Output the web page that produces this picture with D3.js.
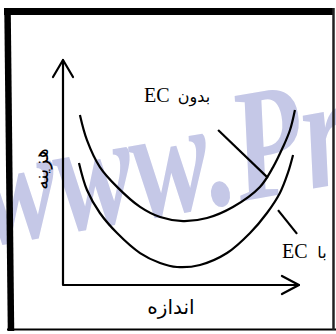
<!DOCTYPE html>
<html>
<head>
<meta charset="utf-8">
<script src="https://cdn.jsdelivr.net/npm/d3@7"></script>
<style>
  html, body { margin: 0; padding: 0; background: #fff; }
  svg { display: block; }
</style>
</head>
<body>
<div id="chart"></div>
<script>
// ---- data ----
const upperX = [7.2, 10.2, 15.7, 23.0, 32.8, 41.3, 51.1, 61.3, 72.3, 83.8, 89.4, 93.6, 96.6, 98.7];
const upperY = [75.6, 64.4, 52.4, 43.6, 34.7, 30.2, 28.4, 29.8, 34.7, 43.6, 52.4, 61.3, 68.9, 77.8];
const lowerX = [6.8, 10.2, 15.7, 23.0, 32.8, 41.3, 48.5, 58.3, 69.8, 79.6, 86.8, 92.3, 95.7, 97.9];
const lowerY = [54.2, 42.2, 32.0, 23.1, 14.2, 9.8, 8.0, 8.9, 14.2, 23.1, 32.0, 40.9, 49.8, 57.8];
const leaderUpper = [[66.0, 68.9], [87.2, 47.6]];
const leaderLower = [[91.5, 33.3], [99.6, 22.7]];
const labelUpperLatin = "EC";
const labelUpperFa = "بدون";
const labelLowerLatin = "EC";
const labelLowerFa = "با";
const xAxisLabel = "اندازه";
const yAxisLabel = "هزینه";
const watermark = "www.Pr";

const W = 336, H = 334;
const svg = d3.select("#chart").append("svg").attr("width", W).attr("height", H);

const x = d3.scaleLinear().domain([0, 100]).range([63, 298]);
const y = d3.scaleLinear().domain([0, 100]).range([285, 60]);

// watermark
svg.append("text")
  .attr("transform", "translate(-12,246) rotate(-10) scale(1,1.38)")
  .attr("font-family", "'Liberation Serif', serif")
  .attr("font-weight", "bold").attr("font-style", "italic")
  .attr("font-size", 116)
  .attr("fill", "rgb(197,200,231)")
  .text(watermark);

// frame
const frame = svg.append("g").attr("stroke", "#000").attr("fill", "none");
frame.append("line").attr("x1", 4).attr("y1", 11.5).attr("x2", 334).attr("y2", 11.5).attr("stroke-width", 7);
frame.append("line").attr("x1", 7.5).attr("y1", 8).attr("x2", 11).attr("y2", 331).attr("stroke-width", 6.5);
frame.append("line").attr("x1", 7).attr("y1", 329.5).attr("x2", 336).attr("y2", 329.5).attr("stroke-width", 2);
frame.append("line").attr("x1", 333.5).attr("y1", 8).attr("x2", 333.5).attr("y2", 330).attr("stroke-width", 2.5).attr("stroke", "#222");

// axes
const axes = svg.append("g").attr("stroke", "#000").attr("fill", "none").attr("stroke-width", 2.2)
  .attr("stroke-linecap", "round").attr("stroke-linejoin", "round");
axes.append("path").attr("d", d3.line()([[x(0), y(100)], [x(0), y(0)], [x(100.4), y(0)]]));
axes.append("path").attr("d", d3.line()([[x(0) - 10, y(100) + 17], [x(0), y(100)], [x(0) + 10, y(100) + 17]]));
axes.append("path").attr("d", d3.line()([[x(100.4) - 17, y(0) - 9], [x(100.4), y(0)], [x(100.4) - 17, y(0) + 9]]));

// curves
const line = d3.line().x(d => x(d[0])).y(d => y(d[1])).curve(d3.curveCatmullRom.alpha(0.5));
const curves = svg.append("g").attr("stroke", "#000").attr("fill", "none").attr("stroke-width", 2.2);
curves.append("path").attr("d", line(d3.zip(upperX, upperY)));
curves.append("path").attr("d", line(d3.zip(lowerX, lowerY)));
curves.append("path").attr("d", d3.line().x(d => x(d[0])).y(d => y(d[1]))(leaderUpper));
curves.append("path").attr("d", d3.line().x(d => x(d[0])).y(d => y(d[1]))(leaderLower));

// labels
const serif = "'Liberation Serif', 'Times New Roman', serif";
const fa = "'DejaVu Sans', sans-serif";
svg.append("text").attr("x", 144).attr("y", 102).attr("font-family", serif).attr("font-size", 20).text(labelUpperLatin);
svg.append("text").attr("x", 194).attr("y", 102).attr("text-anchor", "middle").attr("font-family", fa).attr("font-size", 16).text(labelUpperFa);
svg.append("text").attr("x", 282).attr("y", 258).attr("font-family", serif).attr("font-size", 20).text(labelLowerLatin);
svg.append("text").attr("x", 322).attr("y", 258).attr("text-anchor", "middle").attr("font-family", fa).attr("font-size", 16).text(labelLowerFa);
svg.append("text").attr("x", 171).attr("y", 314).attr("text-anchor", "middle").attr("font-family", fa).attr("font-size", 20).text(xAxisLabel);
svg.append("text").attr("transform", "translate(48,169) rotate(-90)").attr("text-anchor", "middle")
  .attr("font-family", fa).attr("font-size", 19).text(yAxisLabel);
</script>
</body>
</html>
